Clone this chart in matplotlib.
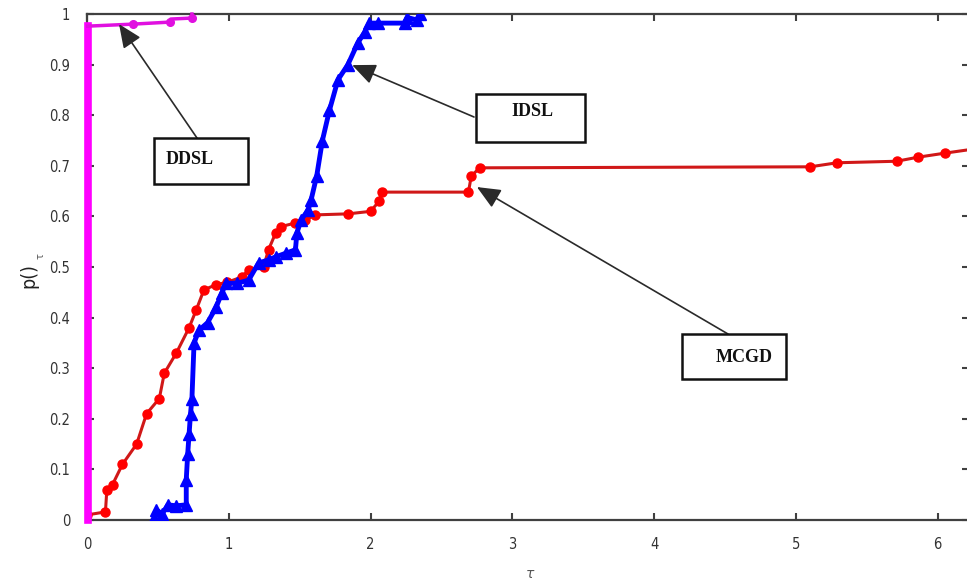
import matplotlib
matplotlib.use('Agg')
import matplotlib.pyplot as plt
from matplotlib.patches import Rectangle

# performance profile data
ddsl_x = [0.005, 0.005, 0.325, 0.585, 0.59, 0.74, 0.74]
ddsl_y = [0.0, 0.976, 0.98, 0.984, 0.99, 0.992, 1.0]

idsl_x = [0.475, 0.49, 0.53, 0.57, 0.63, 0.70, 0.70, 0.71, 0.72, 0.73, 0.74, 0.755,
          0.79, 0.85, 0.91, 0.95, 0.98, 1.06, 1.14, 1.21, 1.28, 1.33, 1.40, 1.47,
          1.48, 1.51, 1.56, 1.58, 1.62, 1.66, 1.71, 1.77, 1.84, 1.91, 1.96, 1.99,
          2.05, 2.24, 2.26, 2.33, 2.35]
idsl_y = [0.004, 0.02, 0.012, 0.03, 0.028, 0.03, 0.08, 0.13, 0.17, 0.21, 0.24, 0.35,
          0.375, 0.39, 0.42, 0.448, 0.468, 0.468, 0.474, 0.508, 0.514, 0.52, 0.527, 0.534,
          0.567, 0.593, 0.613, 0.632, 0.68, 0.75, 0.81, 0.87, 0.90, 0.943, 0.965, 0.982,
          0.982, 0.982, 0.993, 0.988, 1.0]

mcgd_x = [0.0, 0.13, 0.14, 0.18, 0.25, 0.35, 0.42, 0.51, 0.545, 0.63, 0.72, 0.77,
          0.825, 0.91, 0.99, 1.09, 1.14, 1.245, 1.28, 1.33, 1.37, 1.47, 1.54, 1.61,
          1.84, 2.0, 2.06, 2.08, 2.69, 2.71, 2.77, 5.10, 5.29, 5.71, 5.86, 6.05, 6.3]
mcgd_y = [0.01, 0.016, 0.06, 0.07, 0.11, 0.15, 0.21, 0.24, 0.29, 0.33, 0.38, 0.415,
          0.455, 0.465, 0.47, 0.48, 0.494, 0.50, 0.534, 0.567, 0.58, 0.587, 0.593, 0.603,
          0.605, 0.61, 0.63, 0.648, 0.648, 0.68, 0.696, 0.698, 0.706, 0.709, 0.717, 0.725, 0.735]

x_ticks = [0, 1, 2, 3, 4, 5, 6]
y_ticks = [0, 0.1, 0.2, 0.3, 0.4, 0.5, 0.6, 0.7, 0.8, 0.9, 1]
y_ticklabels = ['0', '0.1', '0.2', '0.3', '0.4', '0.5', '0.6', '0.7', '0.8', '0.9', '1']

W, H = 967, 585


def px(x, y):
    # pixel position (top-left origin) -> figure fraction
    return x / W, 1 - y / H


box_font = ['Liberation Serif', 'DejaVu Serif']

fig = plt.figure(figsize=(W / 100, H / 100), dpi=100)
ax = fig.add_axes([87 / W, 65 / H, (969 - 87) / W, (520 - 14) / H])

ax.plot(mcgd_x, mcgd_y, color='#d01818', lw=2.2, marker='o', ms=6.5,
        mfc='#ff0000', mec='#ff0000', zorder=3)
ax.plot(idsl_x, idsl_y, color='#0000ff', lw=3.5, marker='^', ms=8,
        mfc='#0000ff', mec='#0000ff', zorder=4)
ax.plot(ddsl_x[:2], ddsl_y[:2], color='#ff00ff', lw=5.5, zorder=5, clip_on=False)
ax.plot(ddsl_x[1:], ddsl_y[1:], color='#e010e0', lw=2.5, marker='o', ms=5.5,
        markevery=[1, 2, 4], zorder=5, clip_on=False)

ax.set_xlim(0, 6.22)
ax.set_ylim(0, 1)
ax.set_xticks(x_ticks)
ax.set_yticks(y_ticks)
ax.set_yticklabels(y_ticklabels)
ax.tick_params(direction='in', length=5, width=1.5, color='#404040',
               top=True, right=True, labelsize=10.5, labelcolor='#333333', pad=12)
for lab in ax.get_xticklabels() + ax.get_yticklabels():
    lab.set_fontstretch('condensed')
for sp in ax.spines.values():
    sp.set_color('#404040')
    sp.set_linewidth(1.6)

# axis labels
fig.text(*px(29, 276), 'p()', rotation=90, ha='center', va='center',
         fontsize=14, color='#222222', fontstretch='condensed')
fig.text(*px(41, 256), 'τ', rotation=90, ha='center', va='center',
         fontsize=7, color='#555555')
fig.text(*px(530, 574), 'τ', ha='center', va='center', fontsize=10,
         color='#555555', style='italic')

# labelled boxes with arrows
boxes = [
    ('DDSL', (154, 138, 248, 184), (190, 160), (197, 138), (0.226, 0.98)),
    ('IDSL', (476, 94, 585, 142), (532, 111), (474, 117), (1.87, 0.899)),
    ('MCGD', (682, 334, 786, 379), (744, 357), (728, 334), (2.75, 0.658)),
]
for name, (x0, y0, x1, y1), (tx, ty), tail, tip in boxes:
    fx0, fy1 = px(x0, y1)
    fx1, fy0 = px(x1, y0)
    fig.patches.append(Rectangle((fx0, fy1), fx1 - fx0, fy0 - fy1,
                                 transform=fig.transFigure, fill=True,
                                 facecolor='white', edgecolor='#111111',
                                 lw=1.8, zorder=6))
    fig.text(*px(tx, ty), name, ha='center', va='center', fontsize=13,
             fontweight='bold', color='#111111', family=box_font, zorder=7)
    ax.annotate('', xy=tip, xycoords='data',
                xytext=px(*tail), textcoords='figure fraction',
                arrowprops=dict(arrowstyle='-|>,head_length=0.8,head_width=0.35',
                                color='#2a2a2a', lw=1.2, mutation_scale=18,
                                shrinkA=0, shrinkB=0),
                zorder=6)

fig.savefig('out.png', dpi=100)
